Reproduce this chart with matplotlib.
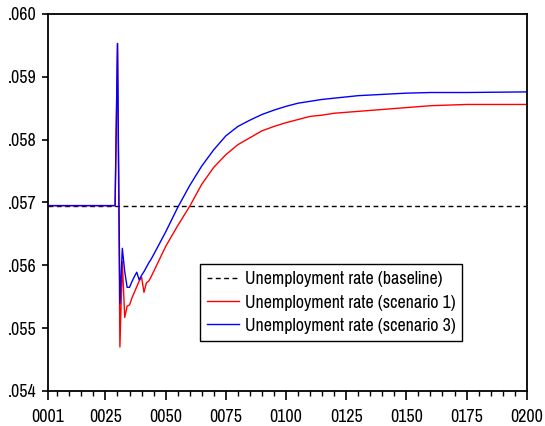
import matplotlib
matplotlib.use('Agg')
import matplotlib.pyplot as plt
from matplotlib.ticker import FixedLocator

plt.rcParams['font.family'] = ['Pragati Narrow', 'Roboto Condensed', 'Liberation Sans', 'DejaVu Sans']

# periods
periods = [1, 29, 30, 31, 32, 33, 34, 35, 36, 37, 38, 39, 40, 41, 42, 43, 44, 45,
           50, 55, 60, 65, 70, 75, 80, 85, 90, 95, 100, 105, 110, 115, 120, 130,
           140, 150, 160, 175, 200]

baseline = [0.05695] * len(periods)

scenario1 = [0.05695, 0.05695, 0.05953, 0.05470, 0.05606, 0.05517, 0.05535, 0.05537,
             0.05548, 0.05557, 0.05566, 0.05575, 0.05581, 0.05557, 0.05572, 0.05575,
             0.05582, 0.05590, 0.05630, 0.05663, 0.05694, 0.05729, 0.05756, 0.05776,
             0.05792, 0.05803, 0.05814, 0.05821, 0.05827, 0.05832, 0.05837, 0.05839,
             0.05842, 0.05845, 0.05848, 0.05851, 0.05854, 0.05856, 0.05856]

scenario3 = [0.05695, 0.05695, 0.05953, 0.05539, 0.05627, 0.05590, 0.05565, 0.05565,
             0.05574, 0.05582, 0.05589, 0.05577, 0.05584, 0.05590, 0.05597, 0.05604,
             0.05610, 0.05617, 0.05653, 0.05692, 0.05727, 0.05758, 0.05784, 0.05806,
             0.05821, 0.05831, 0.05840, 0.05847, 0.05853, 0.05858, 0.05861, 0.05864,
             0.05866, 0.05870, 0.05872, 0.05874, 0.05875, 0.05875, 0.05876]

x_major = [1, 25, 50, 75, 100, 125, 150, 175, 200]
x_labels = ['0001', '0025', '0050', '0075', '0100', '0125', '0150', '0175', '0200']
x_minor = [5, 10, 15, 20, 30, 35, 40, 45, 55, 60, 65, 70, 80, 85, 90, 95, 105, 110,
           115, 120, 130, 135, 140, 145, 155, 160, 165, 170, 180, 185, 190, 195]
y_ticks = [0.054, 0.055, 0.056, 0.057, 0.058, 0.059, 0.060]
y_labels = ['.054', '.055', '.056', '.057', '.058', '.059', '.060']

fig = plt.figure(figsize=(5.45, 4.26), dpi=100)
ax = fig.add_axes([0.0875, 0.0822, 0.879, 0.885])

ax.plot(periods, baseline, color='black', lw=1.0, linestyle=(0, (3.5, 2.5)),
        label='Unemployment rate (baseline)')
ax.plot(periods, scenario1, color='#ff0000', lw=1.0, label='Unemployment rate (scenario 1)')
ax.plot(periods, scenario3, color='#0000ff', lw=1.0, label='Unemployment rate (scenario 3)')

ax.set_xlim(1, 200)
ax.set_ylim(0.054, 0.060)
ax.xaxis.set_major_locator(FixedLocator(x_major))
ax.set_xticklabels(x_labels)
ax.xaxis.set_minor_locator(FixedLocator(x_minor))
ax.set_yticks(y_ticks)
ax.set_yticklabels(y_labels)

ax.tick_params(axis='x', which='major', direction='out', length=6.5, width=1.2, labelsize=14, pad=6.5)
ax.tick_params(axis='x', which='minor', direction='out', length=3.5, width=1.0)
ax.tick_params(axis='y', direction='out', length=4.5, width=1.2, labelsize=14, pad=3.5)
for s in ax.spines.values():
    s.set_linewidth(1.3)

leg = ax.legend(loc='upper left', bbox_to_anchor=(0.318, 0.337), fontsize=14,
                frameon=True, fancybox=False, edgecolor='black', framealpha=1,
                handlelength=1.65, handletextpad=0.3, labelspacing=0.35, borderpad=0.35,
                borderaxespad=0)
leg.get_frame().set_linewidth(1.0)

fig.savefig('out.png', dpi=100)
